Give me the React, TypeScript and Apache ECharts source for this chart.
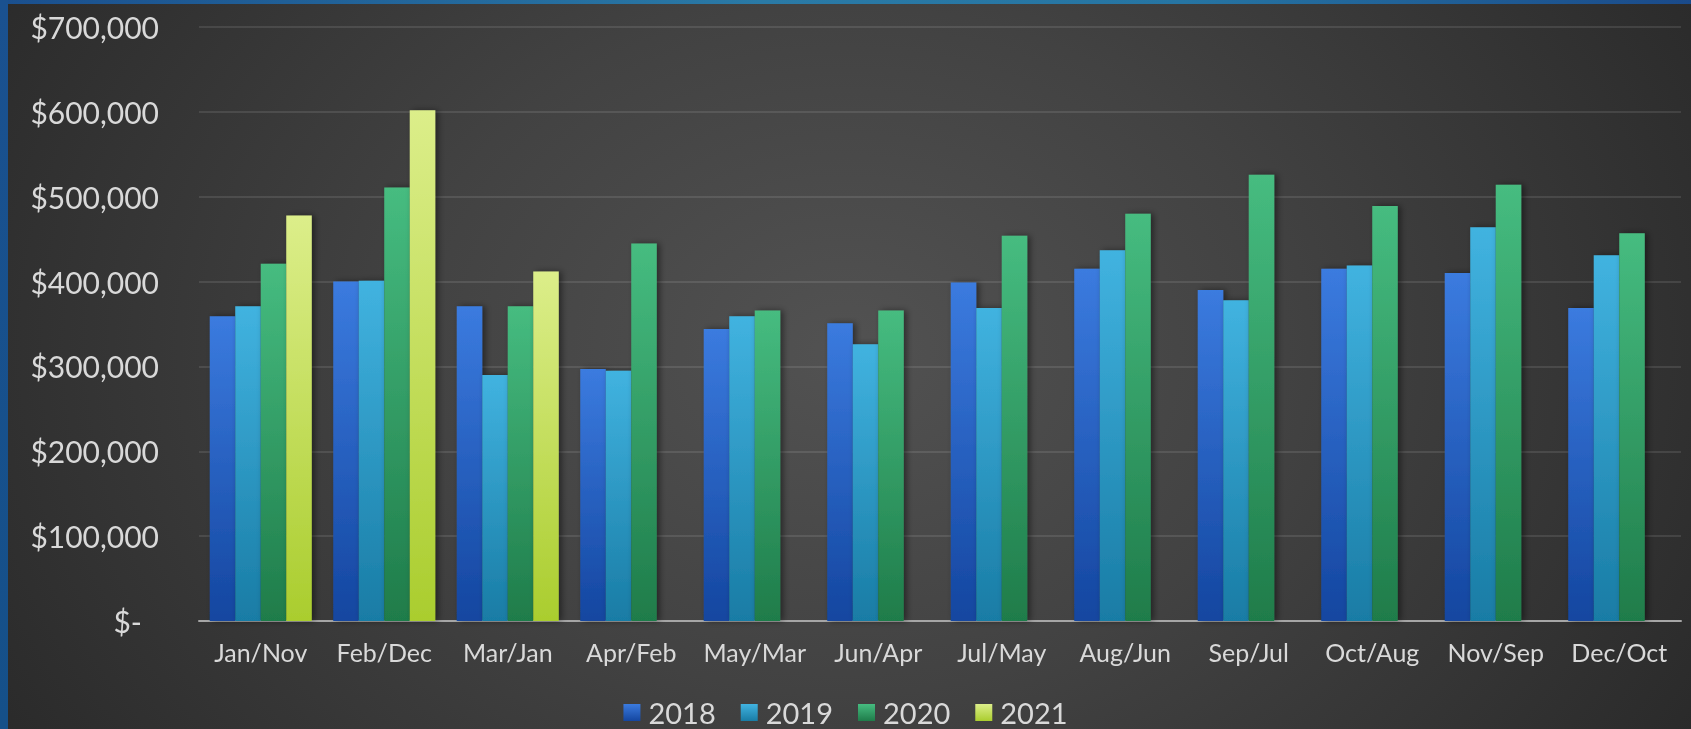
import React, { useEffect, useRef } from "react";
import * as echarts from "echarts";

const categories = [
  "Jan/Nov", "Feb/Dec", "Mar/Jan", "Apr/Feb", "May/Mar", "Jun/Apr",
  "Jul/May", "Aug/Jun", "Sep/Jul", "Oct/Aug", "Nov/Sep", "Dec/Oct",
];
const s2018 = [359000, 400000, 371000, 297000, 344000, 351000, 399000, 415000, 390000, 415000, 410000, 369000];
const s2019 = [371000, 401000, 290000, 295000, 359000, 326000, 369000, 437000, 378000, 419000, 464000, 431000];
const s2020 = [421000, 511000, 371000, 445000, 366000, 366000, 454000, 480000, 526000, 489000, 514000, 457000];
const s2021 = [478000, 602000, 412000, null, null, null, null, null, null, null, null, null];
const seriesNames = ["2018", "2019", "2020", "2021"];
const yTicks = { min: 0, max: 700000, interval: 100000 };

const FONT = "Lato, 'Noto Sans', sans-serif";
const TEXT = "#d9d9d9";

const grad = (top: string, bottom: string) =>
  new echarts.graphic.LinearGradient(0, 0, 0, 1, [
    { offset: 0, color: top },
    { offset: 1, color: bottom },
  ]);

export default function App() {
  const ref = useRef<HTMLDivElement>(null);
  useEffect(() => {
    if (!ref.current) return;
    const chart = echarts.init(ref.current, undefined, { renderer: "svg" });
    const colors = [
      grad("#3b7bdf", "#1446a0"),
      grad("#41b3e0", "#197ca5"),
      grad("#46bc80", "#1f7c4a"),
      grad("#dcee8a", "#aacd2e"),
    ];
    const datas = [s2018, s2019, s2020, s2021];
    chart.setOption({
      animation: false,
      backgroundColor: "transparent",
      grid: { left: 199, right: 10, top: 27, bottom: 108, containLabel: false },
      legend: {
        data: seriesNames,
        left: "center",
        top: 693,
        itemWidth: 17,
        itemHeight: 17,
        itemGap: 25,
        icon: "rect",
        textStyle: { color: TEXT, fontSize: 29, fontFamily: FONT, padding: [0, 0, 0, 3] },
      },
      xAxis: {
        type: "category",
        data: categories,
        axisLine: { lineStyle: { color: "#a6a6a6", width: 2 } },
        axisTick: { show: false },
        axisLabel: { interval: 0, color: TEXT, fontSize: 25, fontFamily: FONT, margin: 18, lineHeight: 26 },
      },
      yAxis: {
        type: "value",
        min: yTicks.min,
        max: yTicks.max,
        interval: yTicks.interval,
        axisLine: { show: false },
        axisTick: { show: false },
        splitLine: { lineStyle: { color: "rgba(255,255,255,0.1)", width: 2 } },
        axisLabel: {
          color: TEXT,
          fontSize: 30,
          fontFamily: FONT,
          margin: 40,
          formatter: (v: number) =>
            v === 0 ? "{z|$-}" : "$" + v.toLocaleString("en-US"),
          rich: { z: { color: TEXT, fontSize: 30, fontFamily: FONT, padding: [0, 17, 0, 0] } },
        },
      },
      series: seriesNames.map((name, i) => ({
        name,
        type: "bar",
        data: datas[i],
        barGap: "0%",
        barCategoryGap: "17.4%",
        itemStyle: {
          color: colors[i],
          shadowColor: "rgba(0,0,0,0.45)",
          shadowBlur: 6,
          shadowOffsetX: 3,
        },
      })),
    });
    return () => chart.dispose();
  }, []);

  return (
    <div
      style={{
        position: "fixed",
        left: 0,
        top: 0,
        width: 1691,
        height: 729,
        overflow: "hidden",
        background:
          "radial-gradient(ellipse 58% 105% at 50% 48%, #525252 0%, #424242 45%, #2a2a2a 100%)",
      }}
    >
      <div
        style={{
          position: "absolute",
          left: 0,
          top: 0,
          width: 1691,
          height: 4,
          background: "linear-gradient(90deg, #1a4f8e 0%, #2a7aa6 45%, #2675a3 70%, #1a4a8a 100%)",
        }}
      />
      <div
        style={{
          position: "absolute",
          left: 0,
          top: 0,
          width: 8,
          height: 729,
          background: "linear-gradient(180deg, #1a5190 0%, #155089 100%)",
        }}
      />
      <div ref={ref} style={{ position: "absolute", left: 0, top: 0, width: 1691, height: 729 }} />
    </div>
  );
}
